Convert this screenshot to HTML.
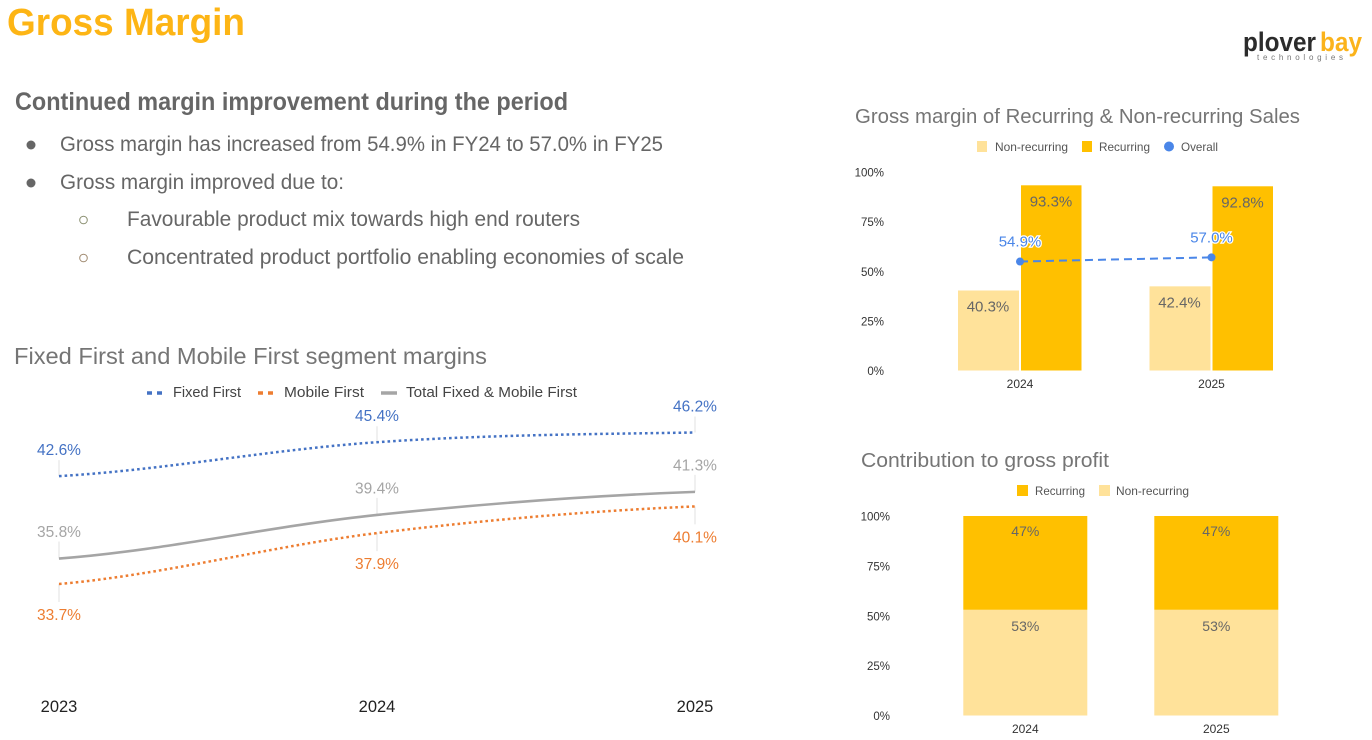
<!DOCTYPE html>
<html lang="en">
<head>
<meta charset="utf-8">
<title>Gross Margin</title>
<style>
html,body{margin:0;padding:0;background:#fff;width:1372px;height:740px;overflow:hidden}
svg{display:block;font-family:"Liberation Sans",Arial,sans-serif}
</style>
</head>
<body>
<svg id="slide" width="1372" height="740" viewBox="0 0 1372 740" xmlns="http://www.w3.org/2000/svg">
  <rect width="1372" height="740" fill="#fff"/>
  <text x="7" y="35" font-size="38" font-weight="700" fill="#fdb515" textLength="238" lengthAdjust="spacingAndGlyphs">Gross Margin</text>

  <g>
    <text x="1243" y="51" font-size="27" font-weight="700" fill="#2b2b2b" textLength="73" lengthAdjust="spacingAndGlyphs">plover</text>
    <text x="1320" y="51" font-size="27" font-weight="700" fill="#fbb31b" textLength="42" lengthAdjust="spacingAndGlyphs">bay</text>
    <text x="1257" y="60" font-size="8" fill="#777" textLength="86" lengthAdjust="spacing">technologies</text>
  </g>

  <g fill="#666">
    <text x="15" y="110" font-size="25" font-weight="700" textLength="553" lengthAdjust="spacingAndGlyphs">Continued margin improvement during the period</text>
    <circle cx="31" cy="145" r="4.5" fill="#666"/>
    <text x="60" y="151" font-size="21" textLength="603" lengthAdjust="spacingAndGlyphs">Gross margin has increased from 54.9% in FY24 to 57.0% in FY25</text>
    <circle cx="31" cy="183" r="4.5" fill="#666"/>
    <text x="60" y="189" font-size="21" textLength="284" lengthAdjust="spacingAndGlyphs">Gross margin improved due to:</text>
    <circle cx="83.500" cy="220" r="3.800" fill="#fff" stroke="#8a8f70" stroke-width="1"/>
    <text x="127" y="226" font-size="21" textLength="453" lengthAdjust="spacingAndGlyphs">Favourable product mix towards high end routers</text>
    <circle cx="83.500" cy="258" r="3.800" fill="#fff" stroke="#a08a70" stroke-width="1"/>
    <text x="127" y="264" font-size="21" textLength="557" lengthAdjust="spacingAndGlyphs">Concentrated product portfolio enabling economies of scale</text>
  </g>

  <g id="segment-chart">
    <text x="14" y="364" font-size="23" fill="#757575" textLength="473" lengthAdjust="spacingAndGlyphs">Fixed First and Mobile First segment margins</text>
    <g font-size="14.500" fill="#444">
      <line x1="147" x2="163" y1="393" y2="393" stroke="#4472c4" stroke-width="3.500" stroke-dasharray="5 5"/>
      <text x="173" y="397" textLength="68" lengthAdjust="spacingAndGlyphs">Fixed First</text>
      <line x1="258" x2="274" y1="393" y2="393" stroke="#ed7d31" stroke-width="3.500" stroke-dasharray="5 5"/>
      <text x="284" y="397" textLength="80" lengthAdjust="spacingAndGlyphs">Mobile First</text>
      <line x1="381" x2="397" y1="393" y2="393" stroke="#a5a5a5" stroke-width="3.500"/>
      <text x="406" y="397" textLength="171" lengthAdjust="spacingAndGlyphs">Total Fixed &amp; Mobile First</text>
    </g>
  </g>

  <g id="recurring-chart">
    <text x="855" y="123" font-size="20" fill="#757575" textLength="445" lengthAdjust="spacingAndGlyphs">Gross margin of Recurring &amp; Non-recurring Sales</text>
    <g font-size="12" fill="#555">
      <rect x="977" y="141" width="10" height="11" fill="#ffe29a"/>
      <text x="995" y="151" textLength="73" lengthAdjust="spacingAndGlyphs">Non-recurring</text>
      <rect x="1082" y="141" width="10" height="11" fill="#ffc000"/>
      <text x="1099" y="151" textLength="51" lengthAdjust="spacingAndGlyphs">Recurring</text>
      <circle cx="1169" cy="146.500" r="5" fill="#4a86e8"/>
      <text x="1181" y="151" textLength="37" lengthAdjust="spacingAndGlyphs">Overall</text>
    </g>
  </g>

  <g id="contribution-chart">
    <text x="861" y="467" font-size="20" fill="#757575" textLength="248" lengthAdjust="spacingAndGlyphs">Contribution to gross profit</text>
    <g font-size="12" fill="#555">
      <rect x="1017" y="485" width="11" height="11" fill="#ffc000"/>
      <text x="1035" y="495" textLength="50" lengthAdjust="spacingAndGlyphs">Recurring</text>
      <rect x="1099" y="485" width="11" height="11" fill="#ffe29a"/>
      <text x="1116" y="495" textLength="73" lengthAdjust="spacingAndGlyphs">Non-recurring</text>
    </g>
  </g>
</svg>

<script>
// Segment line chart data
const segmentYears = ['2023', '2024', '2025'];
const fixedFirst = [42.6, 45.4, 46.2];
const mobileFirst = [33.7, 37.9, 40.1];
const totalFixedMobile = [35.8, 39.4, 41.3];

// Recurring / non-recurring margin data
const marginYears = ['2024', '2025'];
const marginNonRecurring = [40.3, 42.4];
const marginRecurring = [93.3, 92.8];
const marginOverall = [54.9, 57.0];

// Contribution to gross profit data
const contributionYears = ['2024', '2025'];
const contributionRecurring = [47, 47];
const contributionNonRecurring = [53, 53];

// Shared axis ticks
const percentTicks = [0, 25, 50, 75, 100];

const NS = 'http://www.w3.org/2000/svg';
function make(parent, tag, attrs, content) {
  const el = document.createElementNS(NS, tag);
  for (const k in attrs) el.setAttribute(k, attrs[k]);
  if (content !== undefined) el.textContent = content;
  parent.appendChild(el);
  return el;
}

/* ---------- Segment line chart ---------- */
const segRoot = document.getElementById('segment-chart');
const segX = i => 59 + i * 318;
const segY = v => 584 - (v - 33.7) * 12.12;

function smoothPath(values) {
  const pts = values.map((v, i) => [segX(i), segY(v)]);
  const slopes = pts.map((p, i) => {
    if (i === 0) return (pts[1][1] - p[1]) / (pts[1][0] - p[0]) * 0.55;
    if (i === pts.length - 1) return (p[1] - pts[i - 1][1]) / (p[0] - pts[i - 1][0]) * 0.5;
    return (pts[i + 1][1] - pts[i - 1][1]) / (pts[i + 1][0] - pts[i - 1][0]);
  });
  let d = 'M' + pts[0][0] + ' ' + pts[0][1];
  for (let i = 1; i < pts.length; i++) {
    const dx = (pts[i][0] - pts[i - 1][0]) / 3;
    d += ' C' + (pts[i - 1][0] + dx) + ' ' + (pts[i - 1][1] + slopes[i - 1] * dx) +
         ' ' + (pts[i][0] - dx) + ' ' + (pts[i][1] - slopes[i] * dx) +
         ' ' + pts[i][0] + ' ' + pts[i][1];
  }
  return d;
}

function drawSeries(values, key, color, dash, width, labelOffset, leaderEnd) {
  values.forEach((v, i) => {
    const leader = make(segRoot, 'line', {
      x1: segX(i), x2: segX(i), y1: segY(v), y2: segY(v) + leaderEnd,
      stroke: '#e2e2e2', 'stroke-width': 1
    });
    
    
  });
  const attrs = { d: smoothPath(values), fill: 'none', stroke: color, 'stroke-width': width };
  if (dash) attrs['stroke-dasharray'] = dash;
  const line = make(segRoot, 'path', attrs);
  
  
  values.forEach((v, i) => {
    const label = make(segRoot, 'text', {
      x: segX(i), y: segY(v) + labelOffset, 'text-anchor': 'middle',
      'font-size': 15.5, fill: color
    }, v.toFixed(1) + '%');
    
    
  });
}
drawSeries(fixedFirst, 'fixed-first', '#4472c4', '2.6 3', 2.5, -21, -16);
drawSeries(totalFixedMobile, 'total', '#a5a5a5', '', 2.6, -21.5, -17);
drawSeries(mobileFirst, 'mobile-first', '#ed7d31', '2.6 3', 2.5, 36, 18);

segmentYears.forEach((year, i) => {
  const tick = make(segRoot, 'text', {
    x: segX(i), y: 712, 'text-anchor': 'middle', 'font-size': 16.5, fill: '#222'
  }, year);
  
  
});

/* ---------- Shared percent axis ---------- */
function drawPercentAxis(root, y, right, prefix) {
  percentTicks.forEach(t => {
    const tick = make(root, 'text', {
      x: right, y: y(t) + 4.5, 'text-anchor': 'end', 'font-size': 11.5, fill: '#333'
    }, t + '%');
    
    
  });
}

/* ---------- Recurring margin chart ---------- */
const recRoot = document.getElementById('recurring-chart');
const recY = v => 370.5 - v * 1.985;
const recCenter = i => 1020 + i * 191.5;
drawPercentAxis(recRoot, recY, 884, 'recurring');

marginYears.forEach((year, i) => {
  const c = recCenter(i);
  const nr = make(recRoot, 'rect', {
    x: c - 62, y: recY(marginNonRecurring[i]), width: 61,
    height: recY(0) - recY(marginNonRecurring[i]), fill: '#ffe29a'
  });
  
  
  const rc = make(recRoot, 'rect', {
    x: c + 1, y: recY(marginRecurring[i]), width: 60.5,
    height: recY(0) - recY(marginRecurring[i]), fill: '#ffc000'
  });
  
  
  const nrLabel = make(recRoot, 'text', {
    x: c - 32, y: recY(marginNonRecurring[i]) + 21, 'text-anchor': 'middle',
    'font-size': 15, fill: '#666'
  }, marginNonRecurring[i].toFixed(1) + '%');
  
  
  const rcLabel = make(recRoot, 'text', {
    x: c + 31, y: recY(marginRecurring[i]) + 21, 'text-anchor': 'middle',
    'font-size': 15, fill: '#666'
  }, marginRecurring[i].toFixed(1) + '%');
  
  
  const cat = make(recRoot, 'text', {
    x: c, y: 388, 'text-anchor': 'middle', 'font-size': 12, fill: '#333'
  }, year);
  
  
});

const overallLine = make(recRoot, 'path', {
  d: marginOverall.map((v, i) => (i ? 'L' : 'M') + recCenter(i) + ' ' + recY(v)).join(' '),
  fill: 'none', stroke: '#4a86e8', 'stroke-width': 2, 'stroke-dasharray': '8 5'
});


marginOverall.forEach((v, i) => {
  const dot = make(recRoot, 'circle', { cx: recCenter(i), cy: recY(v), r: 4, fill: '#4a86e8' });
  
  
  const label = make(recRoot, 'text', {
    x: recCenter(i), y: recY(v) - 15, 'text-anchor': 'middle', 'font-size': 15,
    fill: '#4a86e8', stroke: '#fff', 'stroke-width': 2.5, 'paint-order': 'stroke'
  }, v.toFixed(1) + '%');
  
  
});

/* ---------- Contribution stacked chart ---------- */
const conRoot = document.getElementById('contribution-chart');
const conY = v => 715.5 - v * 1.995;
const conCenter = i => 1025.3 + i * 191;
drawPercentAxis(conRoot, conY, 890, 'contribution');

contributionYears.forEach((year, i) => {
  const c = conCenter(i);
  const nonRec = contributionNonRecurring[i];
  const rec = contributionRecurring[i];
  const lower = make(conRoot, 'rect', {
    x: c - 62, y: conY(nonRec), width: 124, height: conY(0) - conY(nonRec), fill: '#ffe29a'
  });
  
  
  const upper = make(conRoot, 'rect', {
    x: c - 62, y: conY(nonRec + rec), width: 124, height: conY(nonRec) - conY(nonRec + rec), fill: '#ffc000'
  });
  
  
  const recLabel = make(conRoot, 'text', {
    x: c, y: conY(nonRec + rec) + 20, 'text-anchor': 'middle', 'font-size': 14, fill: '#666'
  }, rec + '%');
  
  
  const nonLabel = make(conRoot, 'text', {
    x: c, y: conY(nonRec) + 21, 'text-anchor': 'middle', 'font-size': 14, fill: '#666'
  }, nonRec + '%');
  
  
  const cat = make(conRoot, 'text', {
    x: c, y: 733, 'text-anchor': 'middle', 'font-size': 12, fill: '#333'
  }, year);
  
  
});
</script>
</body>
</html>
